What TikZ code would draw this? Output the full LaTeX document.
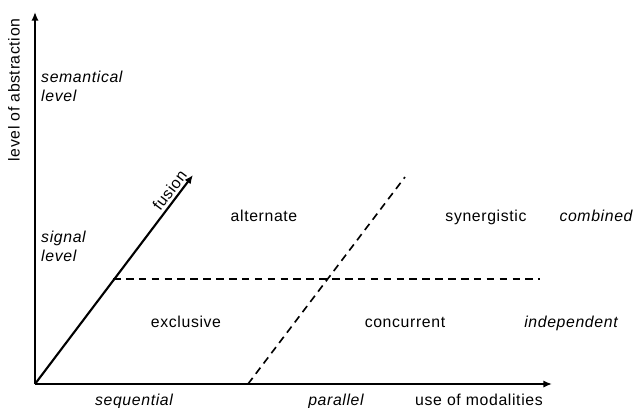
\documentclass[tikz,border=0pt]{standalone}
\usepackage{fontspec}
\setmainfont{Liberation Sans}[LetterSpace=4]
\usetikzlibrary{arrows.meta,positioning}

\begin{document}
\begin{tikzpicture}[x=0.03cm,y=-0.03cm,
  axis/.style={-{Latex[length=2.6mm,width=2.2mm]},line width=1.8pt},
  sep/.style={dash pattern=on 6.5pt off 4.5pt,line width=1.4pt},
  lbl/.style={font=\fontsize{13.5}{16}\selectfont,inner sep=0pt,anchor=base},
  ilbl/.style={lbl,font=\fontsize{13.5}{16}\selectfont\itshape},
  lvl/.style={ilbl,align=left,anchor=north west}]
\useasboundingbox (0,0) rectangle (634,407);
% axes
\coordinate (o) at (35,384);
\coordinate (ytop) at (35,12);
\coordinate (xend) at (552,384);
\coordinate (ftop) at (193,175);
\draw[axis] (o) -- (ytop);
\draw[axis] (o) -- (xend);
\draw[axis] (o) -- (ftop);
% separators
\coordinate (hl) at (113,279);
\coordinate (hr) at (540,279);
\coordinate (dl) at (248,384);
\coordinate (dr) at (405,177);
\draw[sep] (hl) -- (hr);
\draw[sep] (dl) -- (dr);
% axis labels
\node[lbl,anchor=center,rotate=90] (abstr) at (14,90) {level of abstraction};
\node[lbl] (use) at (479,405) {use of modalities};
\path (o) -- (ftop) node[lbl,pos=0.9,sloped,anchor=south,yshift=3pt] (fus) {fusion};
\node[lvl] (sem) at (41,71) {semantical\\level};
\node[lvl] (sig) at (41,231) {signal\\level};
\node[ilbl] (seq) at (134,405) {sequential};
\node[ilbl] (par) at (336,405) {parallel};
% quadrants
\node[lbl] (alt) at (264,221) {alternate};
\node[lbl] (syn) at (486,221) {synergistic};
\node[ilbl] (comb) at (596,221) {combined};
\node[lbl] (excl) at (186,327) {exclusive};
\node[lbl] (conc) at (405,327) {concurrent};
\node[ilbl] (indep) at (571,327) {independent};
\end{tikzpicture}
\end{document}
